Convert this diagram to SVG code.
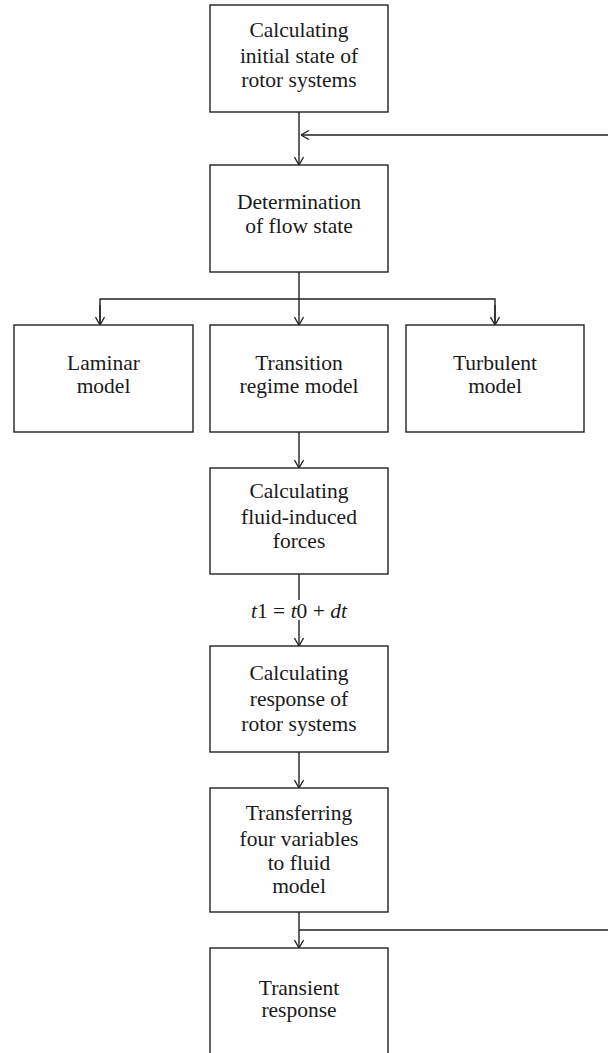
<svg xmlns="http://www.w3.org/2000/svg" width="608" height="1053" viewBox="0 0 608 1053">
<style>
.box{fill:#fff;stroke:#222;stroke-width:1.4}
.t{font-family:"Liberation Serif","Times New Roman",serif;font-size:21.5px;fill:#1a1a1a;text-anchor:middle}
.c{fill:none;stroke:#222;stroke-width:1.4}
.i{font-style:italic}
</style>
<defs>
<marker id="ah" viewBox="0 0 10 10" refX="9.5" refY="5" markerWidth="10" markerHeight="10" markerUnits="userSpaceOnUse" orient="auto">
<path d="M1.5,0.5 L9.5,5 L1.5,9.5" fill="none" stroke="#222" stroke-width="1.3"/>
</marker>
</defs>
<rect width="608" height="1053" fill="#fff"/>
<g id="connectors">
<line class="c" x1="299" y1="112" x2="299" y2="165" marker-end="url(#ah)"/>
<line class="c" x1="608" y1="135" x2="301" y2="135" marker-end="url(#ah)"/>
<line class="c" x1="299" y1="272" x2="299" y2="325" marker-end="url(#ah)"/>
<polyline class="c" points="100,323 100,299 495,299 495,323"/>
<line class="c" x1="100" y1="305" x2="100" y2="325" marker-end="url(#ah)"/>
<line class="c" x1="495" y1="305" x2="495" y2="325" marker-end="url(#ah)"/>
<line class="c" x1="299" y1="432" x2="299" y2="468" marker-end="url(#ah)"/>
<line class="c" x1="299" y1="574" x2="299" y2="600"/>
<line class="c" x1="299" y1="620" x2="299" y2="646" marker-end="url(#ah)"/>
<line class="c" x1="299" y1="752" x2="299" y2="788" marker-end="url(#ah)"/>
<line class="c" x1="299" y1="912" x2="299" y2="948" marker-end="url(#ah)"/>
<line class="c" x1="299" y1="930" x2="608" y2="930"/>
<text class="t" x="299" y="618"><tspan class="i">t</tspan>1 = <tspan class="i">t</tspan>0 + <tspan class="i">dt</tspan></text>
</g>
<g id="n1"><rect class="box" x="210" y="5" width="178" height="107"/>
<text class="t" x="299" y="37">Calculating</text><text class="t" x="299" y="63">initial state of</text><text class="t" x="299" y="87">rotor systems</text></g>
<g id="n2"><rect class="box" x="210" y="165" width="178" height="107"/>
<text class="t" x="299" y="209">Determination</text><text class="t" x="299" y="233">of flow state</text></g>
<g id="n3"><rect class="box" x="14" y="325" width="179" height="107"/>
<text class="t" x="103.5" y="370">Laminar</text><text class="t" x="103.5" y="393">model</text></g>
<g id="n4"><rect class="box" x="210" y="325" width="178" height="107"/>
<text class="t" x="299" y="370">Transition</text><text class="t" x="299" y="393">regime model</text></g>
<g id="n5"><rect class="box" x="406" y="325" width="178" height="107"/>
<text class="t" x="495" y="370">Turbulent</text><text class="t" x="495" y="393">model</text></g>
<g id="n6"><rect class="box" x="210" y="468" width="178" height="106"/>
<text class="t" x="299" y="498">Calculating</text><text class="t" x="299" y="524">fluid-induced</text><text class="t" x="299" y="548">forces</text></g>
<g id="n7"><rect class="box" x="210" y="646" width="178" height="106"/>
<text class="t" x="299" y="680">Calculating</text><text class="t" x="299" y="706">response of</text><text class="t" x="299" y="731">rotor systems</text></g>
<g id="n8"><rect class="box" x="210" y="788" width="178" height="124"/>
<text class="t" x="299" y="820">Transferring</text><text class="t" x="299" y="846">four variables</text><text class="t" x="299" y="870">to fluid</text><text class="t" x="299" y="893">model</text></g>
<g id="n9"><rect class="box" x="210" y="948" width="178" height="120"/>
<text class="t" x="299" y="995">Transient</text><text class="t" x="299" y="1017">response</text></g>
</svg>
